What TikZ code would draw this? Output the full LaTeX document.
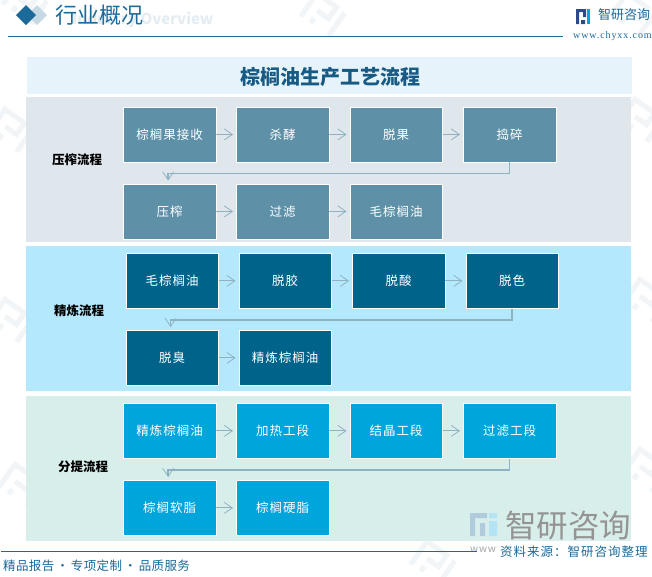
\documentclass[tikz,border=0pt]{standalone}
\usepackage{fontspec}
\setmainfont{Noto Sans CJK SC}
\newfontfamily\spaced{Noto Sans CJK SC}[LetterSpace=8]
\newfontfamily\tight{Noto Sans CJK SC}[LetterSpace=3]
\newfontfamily\urlfont{Liberation Serif}[LetterSpace=9]
\usetikzlibrary{arrows.meta,positioning}
\definecolor{bandA}{HTML}{DFE7EC}
\definecolor{bandB}{HTML}{B4E9FD}
\definecolor{bandC}{HTML}{D8EEEB}
\definecolor{boxA}{HTML}{5E91A8}
\definecolor{boxB}{HTML}{00648A}
\definecolor{boxC}{HTML}{00A5DC}
\definecolor{head}{HTML}{1B6A9A}
\definecolor{titleband}{HTML}{E6F3FB}
\definecolor{arrowc}{HTML}{8FB2C2}
\definecolor{wm}{HTML}{F1F5F8}
\definecolor{navy}{HTML}{2B4A8C}
\tikzset{
 band/.style={anchor=north west,inner sep=0pt,minimum width=605pt,minimum height=145pt},
 flow/.style={anchor=north west,draw=white,line width=0.8pt,inner sep=0pt,minimum width=92.5pt,minimum height=55pt,text=white,font=\fontsize{12.5}{14}\selectfont\spaced},
 fa/.style={flow,fill=boxA},fb/.style={flow,fill=boxB},fc/.style={flow,fill=boxC},
 side/.style={font=\fontsize{12.5}{14}\selectfont\bfseries,text=black},
 link/.style={arrowc,line width=1pt,-{Straight Barb[length=8pt,width=11pt,line width=0.8pt]}},
 elbow/.style={link,line width=1.5pt},
 pics/wmlogo/.style={code={
   \draw[wm,line width=5pt] (-16,14) -- (-16,-14) -- (8,-14) -- (8,0) -- (-6,0) (-4,14) -- (-4,8) (18,-14) -- (18,14);
 }},
}
\begin{document}
\begin{tikzpicture}[x=1pt,y=-1pt]
\useasboundingbox (0,0) rectangle (652,576);
\fill[white] (0,0) rectangle (652,576);
% faint watermark marks
\foreach \wx/\wy in {24/2,322/14,632/14,10/130,640/120,10/320,645/300,20/485,645/470,432/562}
  \pic[rotate=-35] at (\wx,\wy) {wmlogo};
% header
\fill[head!25] (37,5) -- (47,15) -- (37,25) -- (27,15) -- cycle;
\fill[head] (26,5) -- (36,15) -- (26,25) -- (16,15) -- cycle;
\node[anchor=west,inner sep=0pt,text=head!12,font=\fontsize{15}{16}\selectfont\bfseries] (ov) at (72,20) {Industry Overview};
\node[anchor=west,inner sep=0pt,text=head,font=\fontsize{22}{24}\selectfont] (hd) at (55,15) {行业概况};
\fill[head] (8,35.6) rectangle (563,36.6);
% logo
\fill[navy] (576,9) rectangle (586,12) (576,12) rectangle (579,24) (583,12) rectangle (586,17) (581,20) rectangle (585,24);
\fill[boxC] (587,9) rectangle (590,24);
\node[anchor=west,inner sep=0pt,text=head,font=\fontsize{13}{14}\selectfont] (lg) at (598,15) {智研咨询};
\node[anchor=west,inner sep=0pt,text=head,font=\fontsize{10}{10}\selectfont\urlfont] (url) at (573,36) {www.chyxx.com};
% title
\fill[titleband] (27,57) rectangle (632,94);
\node[font=\fontsize{20}{22}\selectfont\bfseries,text=head!85!black] (title) at (330,77) {棕榈油生产工艺流程};
% bands
\node[band,fill=bandA] (ba) at (26,97) {};
\node[band,fill=bandB] (bb) at (26,246) {};
\node[band,fill=bandC] (bc) at (26,396) {};
\node[side] (sa) at (77,160) {压榨流程};
\node[side] (sb) at (79,311) {精炼流程};
\node[side] (sc) at (83,467) {分提流程};
% band 1
\node[fa] (a1) at (123,106.5) {棕榈果接收};
\node[fa] (a2) at (236,106.5) {杀酵};
\node[fa] (a3) at (349.5,106.5) {脱果};
\node[fa] (a4) at (463,106.5) {捣碎};
\node[fa] (a5) at (123,183.5) {压榨};
\node[fa] (a6) at (236,183.5) {过滤};
\node[fa] (a7) at (349.5,183.5) {毛棕榈油};
% band 2
\node[fb] (b1) at (125.5,253) {毛棕榈油};
\node[fb] (b2) at (238.5,253) {脱胶};
\node[fb] (b3) at (352,253) {脱酸};
\node[fb] (b4) at (465.5,253) {脱色};
\node[fb] (b5) at (125.5,330) {脱臭};
\node[fb] (b6) at (238.5,330) {精炼棕榈油};
% band 3
\node[fc] (c1) at (123,403) {精炼棕榈油};
\node[fc] (c2) at (236,403) {加热工段};
\node[fc] (c3) at (349.5,403) {结晶工段};
\node[fc] (c4) at (463,403) {过滤工段};
\node[fc] (c5) at (123,480) {棕榈软脂};
\node[fc] (c6) at (236,480) {棕榈硬脂};
% connectors
\foreach \p/\q in {a1/a2,a2/a3,a3/a4,a5/a6,a6/a7,b1/b2,b2/b3,b3/b4,b5/b6,c1/c2,c2/c3,c3/c4,c5/c6}
  \draw[link,shorten >=3pt] (\p.east) -- (\q.west);
\draw[elbow] (a4.south) -- ++(0,11) -| ([xshift=-1.5pt,yshift=3pt]a5.north);
\draw[elbow] (b4.south) -- ++(0,11) -| ([xshift=-1.5pt,yshift=3pt]b5.north);
\draw[elbow] (c4.south) -- ++(0,11) -| ([xshift=-1.5pt,yshift=3pt]c5.north);
% bottom watermark logo
\fill[head!35] (470,513) rectangle (487,518) (470,518) rectangle (475,536) (480,523) rectangle (485,536);
\fill[boxC!30] (489,513) rectangle (497,518) (489,521) rectangle (497,536);
\node[anchor=west,inner sep=0pt,text=black!42,font=\fontsize{31.5}{33}\selectfont] (wmt) at (505,526) {智研咨询};
\node[anchor=west,inner sep=0pt,text=black!35,font=\fontsize{10}{12}\selectfont\spaced] (wmu) at (470,549.5) {www};
% footer
\fill[head] (1,551) rectangle (477,552);
\node[anchor=west,inner sep=0pt,fill=white,text=head,font=\fontsize{12.5}{14}\selectfont\spaced] (src) at (500,552) {资料来源：智研咨询整理};
\node[anchor=west,inner sep=0pt,text=head,font=\fontsize{12.5}{14}\selectfont\tight] (foot) at (3,566) {精品报告\,·\,专项定制\,·\,品质服务};
\end{tikzpicture}
\end{document}
